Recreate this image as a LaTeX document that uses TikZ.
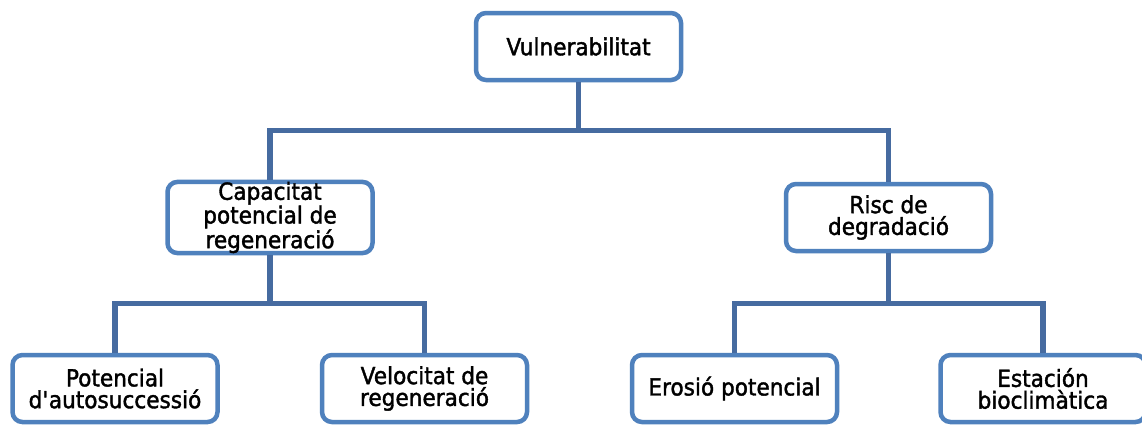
\documentclass[tikz,border=0pt]{standalone}
\usepackage{fontspec}
\setmainfont{DejaVu Sans}[FakeStretch=0.92, BoldFont={DejaVu Sans}, BoldFeatures={FakeBold=1.6}]
\definecolor{boxblue}{RGB}{79,129,189}
\definecolor{linkblue}{RGB}{70,107,160}
\tikzset{
  box/.style={draw=boxblue, line width=4.5pt, fill=white, rounded corners=10pt,
    minimum width=205pt, minimum height=67pt, inner xsep=2pt, inner ysep=0pt, align=center,
    font=\fontsize{23.5}{21.8}\selectfont\bfseries, text=black},
  link/.style={draw=linkblue, line width=5.5pt}
}
\begin{document}
\begin{tikzpicture}[x=1pt,y=-1pt]
\useasboundingbox (0,0) rectangle (1142,424);
\clip (0,0) rectangle (1142,424);
\fill[white] (0,0) rectangle (1142,424);
\coordinate (bus1) at (0,130.5);
\coordinate (bus2) at (0,303.5);
\node[box] (top) at (578.5,46.5) {Vulnerabilitat};
\node[box] (cap) at (270,217.5) {Capacitat\\potencial de\\regeneració};
\node[box] (risc) at (888.5,217.5) {Risc de\\degradació};
\node[box] (pot) at (115,388.5) {Potencial\\d\textquotesingle autosuccessió};
\node[box] (vel) at (424.5,388.5) {Velocitat de\\regeneració};
\node[box] (ero) at (734.5,388.5) {Erosió potencial};
\node[box] (est) at (1043,388.5) {Estación\\bioclimàtica};
\draw[link] (top.south) -- (top.south |- bus1) -| (cap.north);
\draw[link] (top.south |- bus1) -| (risc.north);
\draw[link] (cap.south) -- (cap.south |- bus2) -| (pot.north);
\draw[link] (cap.south |- bus2) -| (vel.north);
\draw[link] (risc.south) -- (risc.south |- bus2) -| (ero.north);
\draw[link] (risc.south |- bus2) -| (est.north);
\end{tikzpicture}
\end{document}
